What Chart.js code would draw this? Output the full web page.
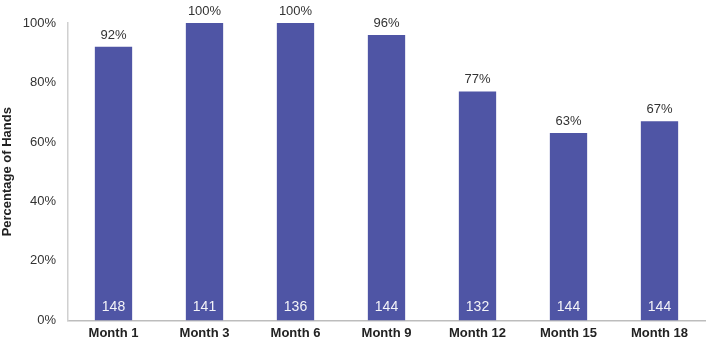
<!DOCTYPE html>
<html>
<head>
<meta charset="utf-8">
<script src="https://cdn.jsdelivr.net/npm/chart.js@4/dist/chart.umd.min.js"></script>
<style>
  html, body { margin: 0; padding: 0; background: #fff; }
  #wrap { width: 709px; height: 346px; position: relative; }
</style>
</head>
<body>
<div id="wrap"><canvas id="chart"></canvas></div>
<script>
'use strict';

const categories = ['Month 1', 'Month 3', 'Month 6', 'Month 9', 'Month 12', 'Month 15', 'Month 18'];
const percentHands = [92, 100, 100, 96, 77, 63, 67];
const handCounts = [148, 141, 136, 144, 132, 144, 144];
const yTicks = [0, 20, 40, 60, 80, 100];

const BAR_COLOR = '#4f55a5';
const FONT = '"Liberation Sans", Arial, sans-serif';

// labels above bars and counts at the bar bottom
const barLabels = {
  id: 'barLabels',
  afterDatasetsDraw(chart) {
    const { ctx } = chart;
    const meta = chart.getDatasetMeta(0);
    const base = chart.scales.y.getPixelForValue(0);
    ctx.save();
    ctx.textAlign = 'center';
    meta.data.forEach((bar, i) => {
      ctx.font = `13px ${FONT}`;
      ctx.fillStyle = '#333';
      ctx.textBaseline = 'bottom';
      ctx.fillText(`${percentHands[i]}%`, bar.x, bar.y - 5);
      ctx.font = `14px ${FONT}`;
      ctx.fillStyle = '#f4f4f8';
      ctx.textBaseline = 'middle';
      ctx.fillText(String(handCounts[i]), bar.x, base - 13);
    });
    ctx.restore();
  },
};

new Chart(document.getElementById('chart'), {
  type: 'bar',
  data: {
    labels: categories,
    datasets: [{
      data: percentHands,
      backgroundColor: BAR_COLOR,
      borderWidth: 0,
      barPercentage: 0.41,
      categoryPercentage: 1,
    }],
  },
  options: {
    responsive: true,
    maintainAspectRatio: false,
    animation: false,
    layout: { padding: { top: 23, right: 4, bottom: 0, left: 0 } },
    plugins: { legend: { display: false }, tooltip: { enabled: false } },
    scales: {
      x: {
        grid: { display: false, drawTicks: false },
        border: { color: '#bdbdbd', width: 1.5 },
        ticks: {
          color: '#222',
          font: { family: FONT, size: 13, weight: 'bold' },
          padding: 5,
          maxRotation: 0,
        },
      },
      y: {
        min: 0,
        max: 100,
        afterFit(scale) { scale.width = 68; },
        afterBuildTicks(scale) { scale.ticks = yTicks.map(v => ({ value: v })); },
        grid: { display: false, drawTicks: false },
        border: { color: '#d0d0d0', width: 1.5 },
        ticks: {
          color: '#333',
          font: { family: FONT, size: 13 },
          padding: 12,
          callback: v => `${v}%`,
        },
        title: {
          display: true,
          text: 'Percentage of Hands',
          color: '#222',
          font: { family: FONT, size: 13, weight: 'bold' },
          padding: { top: 0, bottom: 4 },
        },
      },
    },
  },
  plugins: [barLabels],
});
</script>
</body>
</html>
